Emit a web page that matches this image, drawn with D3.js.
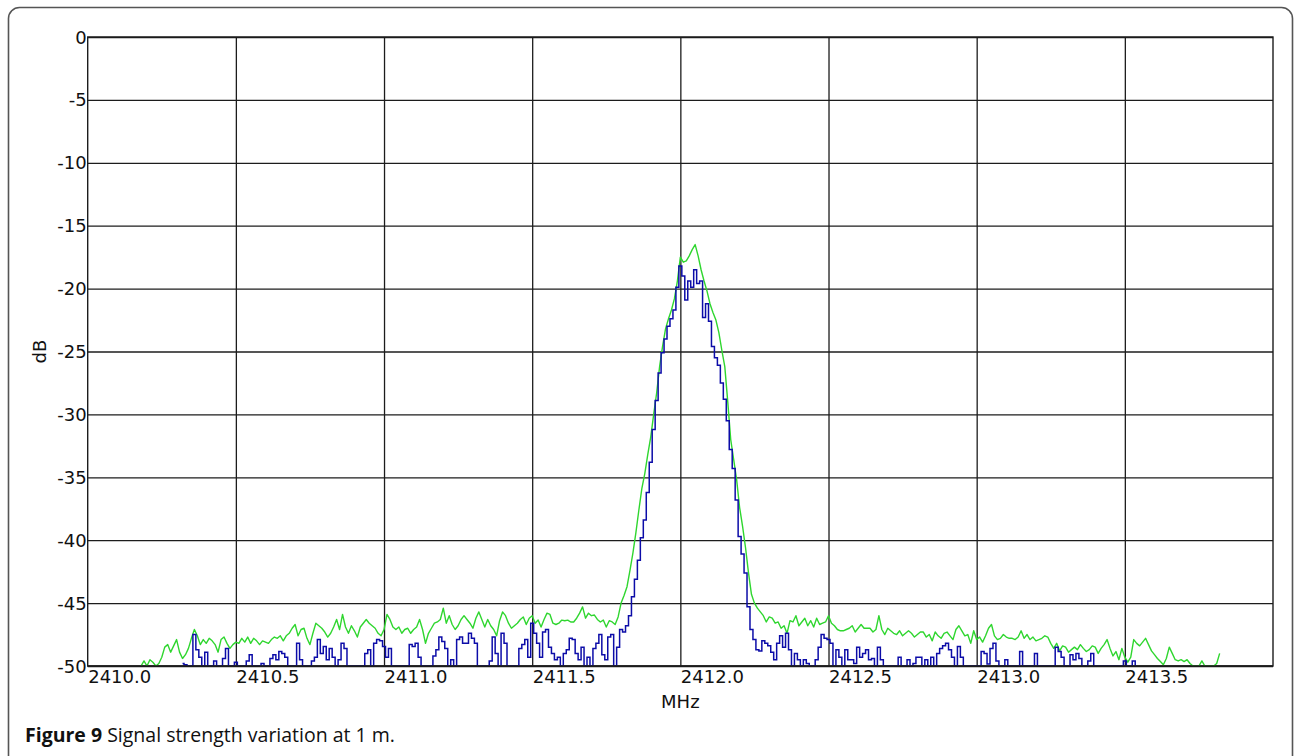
<!DOCTYPE html>
<html>
<head>
<meta charset="utf-8">
<script src="https://cdn.jsdelivr.net/npm/d3@7"></script>
<style>
  html, body { margin: 0; padding: 0; background: #fff; }
  svg { display: block; }
</style>
</head>
<body>
<svg id="chart" width="1294" height="756"></svg>
<script>
// Spectrum samples: one value per 0.01 MHz bin, starting at freqStart.
const freqStart = 2410.18;
const freqStep = 0.01;

// Upper trace (green), dB
const greenDb = [
  -50, -49.6, -50, -49.5, -49.7, -50, -49.8, -49.3, -48.5, -48.3,
  -48.9, -48.4, -47.9, -48.9, -49.4, -49.1, -48.6, -47.8, -47.1, -47.6,
  -48.3, -47.9, -48.2, -47.8, -48.0, -48.3, -48.9, -47.9, -47.7, -48.2,
  -48.6, -48.3, -48.1, -48.2, -47.8, -48.1, -47.7, -48.2, -47.8, -48.0,
  -48.3, -48.0, -48.1, -48.2, -47.9, -47.7, -47.8, -47.6, -48.0, -47.6,
  -47.4, -47.0, -46.7, -47.6, -47.1, -47.0, -47.8, -48.3, -47.4, -46.6,
  -46.8, -47.0, -47.3, -47.7, -47.4, -46.9, -46.3, -47.1, -45.9, -46.9,
  -47.4, -46.8, -47.2, -47.7, -46.9, -46.6, -46.3, -46.6, -46.8, -47.0,
  -47.4, -47.6, -47.1, -45.9, -46.3, -46.9, -47.1, -46.9, -47.4, -47.1,
  -47.0, -47.4, -47.1, -46.9, -46.3, -47.1, -48.2, -47.4, -47.0, -46.6,
  -46.5, -46.3, -45.4, -46.6, -46.0, -46.7, -47.1, -46.8, -46.3, -46.0,
  -46.3, -46.6, -47.0, -46.2, -45.7, -46.3, -46.9, -46.3, -46.8, -47.1,
  -47.6, -46.4, -45.7, -46.0, -46.6, -47.0, -46.8, -46.6, -46.3, -46.1,
  -46.7, -46.2, -46.0, -46.6, -46.35, -46.9, -46.3, -45.8, -45.9, -46.6,
  -46.7, -46.6, -46.35, -46.4, -46.35, -46.5, -46.5, -46.2, -45.8, -45.3,
  -46.2, -45.8, -46.0, -45.95, -46.3, -46.5, -46.35, -46.9, -46.4, -46.5,
  -46.7, -46.1, -45.0, -44.4, -43.7, -42.4, -41.0, -39.4, -37.6, -35.9,
  -34.7, -33.2, -31.8, -30.0, -28.3, -26.2, -24.6, -23.2, -22.4, -21.7,
  -20.8, -19.4, -17.5, -17.9, -17.8, -17.4, -16.9, -16.5, -17.4, -18.5,
  -19.4, -20.2, -21.2, -21.9, -22.5, -23.5, -24.9, -26.2, -29.0, -32.0,
  -33.6, -35.2, -37.4, -38.9, -40.6, -42.6, -44.3, -45.0, -45.4, -45.7,
  -46.0, -46.5, -46.1, -46.2, -46.6, -46.5, -47.0, -46.8, -47.4, -46.4,
  -46.5, -46.0, -46.8, -46.5, -46.2, -46.8, -46.4, -46.9, -46.2, -46.7,
  -46.6, -46.5, -46.0, -46.6, -46.8, -47.1, -47.2, -47.2, -47.1, -47.0,
  -46.8, -47.3, -47.0, -46.7, -47.0, -47.0, -47.0, -47.3, -47.1, -46.0,
  -47.1, -47.5, -47.0, -47.2, -47.4, -47.5, -47.2, -47.6, -47.4, -47.2,
  -47.4, -47.7, -47.5, -47.3, -47.3, -47.7, -47.5, -48.0, -47.3, -47.6,
  -47.8, -47.4, -47.3, -47.6, -47.9, -47.1, -46.8, -47.2, -47.6, -47.5,
  -48.2, -47.2, -47.9, -47.7, -48.1, -47.6, -47.0, -46.7, -47.6, -47.9,
  -47.8, -47.5, -47.7, -47.8, -47.8, -47.9, -47.7, -47.2, -47.8, -47.5,
  -47.9, -47.7, -48.0, -47.9, -47.8, -47.6, -47.7, -48.2, -48.6, -48.2,
  -48.8, -48.4, -48.5, -48.9, -48.7, -48.5, -48.7, -48.3, -48.6, -48.85,
  -48.7, -48.4, -48.5, -49.0, -48.6, -48.3, -47.9, -48.6, -49.2, -48.85,
  -49.5, -48.6, -49.3, -49.7, -49.3, -47.9, -48.2, -48.4, -48.1, -47.8,
  -48.3, -48.8, -49.1, -49.4, -49.65, -49.9, -49.4, -48.5, -49.0, -49.5,
  -49.6, -49.5, -49.65, -49.5, -49.8, -50, -50, -50, -49.6, -50,
  -50, -50, -50, -49.8, -49.0
];

// Lower trace (blue), dB; null where the trace is absent
const blueDb = [
  null, null, null, null, null, null, null, null, null, null,
  null, null, null, null, -49.8, -49.9, -50, -50, -47.5, -48.7,
  -49.3, -50, -48.9, -50, -50, -49.6, -50, -50, -49.4, -48.6,
  -50, -50, -49.7, -50, -50, -50, -49.6, -49.1, -50, -50,
  -50, -49.8, -50, -50, -49.4, -49.1, -49.5, -48.85, -49.0, -49.3,
  -50, -50, -50, -48.2, -49.5, -50, -50, -50, -49.6, -49.3,
  -47.9, -49.0, -48.45, -49.5, -48.6, -49.3, -50, -49.5, -48.2, -48.6,
  -50, -50, -50, -50, -50, -50, -49.0, -48.7, -50, -48.2,
  -47.9, -48.0, -48.45, -49.3, -48.6, -50, -50, -50, -50, -50,
  -50, -48.3, -48.45, -48.2, -49.3, -50, -50, -50, -50, -49.2,
  -48.7, -47.7, -48.05, -48.6, -50, -49.5, -50, -47.9, -47.7, -48.2,
  -48.2, -47.4, -47.8, -48.2, -50, -50, -50, -50, -49.6, -47.7,
  -49.0, -50, -47.4, -48.2, -50, -50, -50, -50, -48.6, -48.3,
  -47.9, -49.3, -46.6, -47.4, -48.2, -49.3, -47.3, -47.1, -48.5, -49.0,
  -49.5, -49.3, -50, -49.0, -48.7, -47.8, -47.9, -49.0, -49.5, -48.5,
  -50, -49.3, -50, -48.6, -48.2, -47.5, -49.1, -49.5, -47.7, -47.5,
  -50, -48.5, -47.1, -47.3, -46.8, -46.0, -44.5, -43.1, -41.6, -39.8,
  -38.4, -36.2, -33.8, -31.2, -28.9, -26.7, -25.1, -24.0, -23.0, -22.4,
  -21.7, -19.9, -18.2, -19.0, -20.9, -19.4, -19.9, -18.5, -19.6, -19.4,
  -22.3, -21.2, -22.6, -24.6, -25.5, -26.1, -27.5, -28.8, -30.5, -32.8,
  -34.3, -36.8, -39.7, -41.1, -42.6, -45.3, -47.1, -47.9, -48.7, -48.8,
  -48.0, -48.2, -48.4, -48.9, -49.5, -48.2, -47.6, -48.5, -47.4, -48.7,
  -50, -49.0, -49.5, -50, -49.5, -49.8, -50, -50, -49.5, -48.5,
  -47.5, -47.8, -47.9, -48.2, -50, -48.7, -49.3, -50, -48.7, -49.5,
  -49.5, -49.8, -48.5, -49.3, -49.0, -48.7, -49.5, -49.4, -50, -48.5,
  -49.5, -50, -50, -50, -50, -50, -49.3, -50, -50, -49.5,
  -50, -49.8, -49.3, -49.3, -50, -49.5, -50, -49.3, -50, -49.0,
  -48.6, -48.4, -48.2, -48.7, -49.3, -50, -48.45, -49.3, -50, -50,
  -50, -50, -50, -50, -48.85, -49.0, -49.85, -48.6, -48.2, -49.6,
  -50, -50, -49.5, -50, -50, -50, -50, -48.85, -50, -50,
  -50, -50, -49.0, -50, -50, -50, -50, -50, -50, -48.5,
  -48.85, -49.3, -50, -50, -49.1, -49.5, -49.0, -49.4, -50, -50,
  -49.6, -49.0, -50, -50, -50, -50, -50, -50, -50, -50,
  -50, -50, -49.6, -50, -50, -49.6, -50
];

// Axis ticks
const xTicks = [2410.0, 2410.5, 2411.0, 2411.5, 2412.0, 2412.5, 2413.0, 2413.5];
const yTicks = [0, -5, -10, -15, -20, -25, -30, -35, -40, -45, -50];
const xDomain = [2410, 2414];
const yDomain = [-50, 0];

const plot = { left: 87.7, right: 1273, top: 37, bottom: 666 };

const svg = d3.select("#chart");

// Outer panel frame with rounded corners
svg.append("rect")
  .attr("x", 8.5).attr("y", 7.5)
  .attr("width", 1284).attr("height", 780)
  .attr("rx", 11).attr("ry", 11)
  .attr("fill", "none")
  .attr("stroke", "#555")
  .attr("stroke-width", 1.6);

const x = d3.scaleLinear().domain(xDomain).range([plot.left, plot.right]);
const y = d3.scaleLinear().domain(yDomain).range([plot.bottom, plot.top]);

const grid = svg.append("g");

// Horizontal grid
grid.append("g")
  .attr("transform", `translate(${plot.left},0)`)
  .call(d3.axisLeft(y).tickValues(yTicks).tickSize(-(plot.right - plot.left)).tickFormat(""))
  .call(g => g.select(".domain").remove())
  .call(g => g.selectAll("line").attr("stroke", "#1c1c1c").attr("stroke-width", 1.3));

// Vertical grid
grid.append("g")
  .attr("transform", `translate(0,${plot.bottom})`)
  .call(d3.axisBottom(x).tickValues(xTicks.slice(1)).tickSize(-(plot.bottom - plot.top)).tickFormat(""))
  .call(g => g.select(".domain").remove())
  .call(g => g.selectAll("line").attr("stroke", "#1c1c1c").attr("stroke-width", 1.3));

// Plot frame
svg.append("rect")
  .attr("x", plot.left).attr("y", plot.top)
  .attr("width", plot.right - plot.left).attr("height", plot.bottom - plot.top)
  .attr("fill", "none").attr("stroke", "#1c1c1c").attr("stroke-width", 1.4);

// Traces
svg.append("clipPath").attr("id", "plot-clip")
  .append("rect")
  .attr("x", plot.left).attr("y", plot.top)
  .attr("width", plot.right - plot.left).attr("height", plot.bottom - plot.top);

const toPoints = arr => arr.map((v, i) => ({ f: freqStart + i * freqStep, v }));

const lineGreen = d3.line()
  .defined(d => d.v !== null)
  .x(d => x(d.f)).y(d => y(d.v));

const lineBlue = d3.line()
  .defined(d => d.v !== null)
  .curve(d3.curveStep)
  .x(d => x(d.f)).y(d => y(d.v));

const traces = svg.append("g").attr("clip-path", "url(#plot-clip)");

traces.append("path")
  .datum(toPoints(greenDb))
  .attr("d", lineGreen)
  .attr("fill", "none")
  .attr("stroke", "#2fd62f")
  .attr("stroke-width", 1.4)
  .attr("stroke-linejoin", "round");

traces.append("path")
  .datum(toPoints(blueDb))
  .attr("d", lineBlue)
  .attr("fill", "none")
  .attr("stroke", "#0c0ca8")
  .attr("stroke-width", 1.5);

// Redraw the bottom edge over the traces
svg.append("line")
  .attr("x1", plot.left).attr("x2", plot.right)
  .attr("y1", plot.bottom).attr("y2", plot.bottom)
  .attr("stroke", "#1c1c1c").attr("stroke-width", 1.6);

// Tick labels
const labelFont = "'DejaVu Sans', sans-serif";

svg.append("g")
  .attr("transform", `translate(0,${plot.bottom})`)
  .call(d3.axisBottom(x).tickValues(xTicks).tickSize(0).tickPadding(0).tickFormat(d3.format(".1f")))
  .call(g => g.select(".domain").remove())
  .call(g => g.selectAll("text")
    .attr("text-anchor", "start")
    .attr("dy", null)
    .attr("y", 17)
    .attr("fill", "#111")
    .style("font-family", labelFont)
    .style("font-size", "18px"));

svg.append("g")
  .attr("transform", `translate(${plot.left},0)`)
  .call(d3.axisLeft(y).tickValues(yTicks).tickSize(0).tickPadding(1).tickFormat(d => String(d)))
  .call(g => g.select(".domain").remove())
  .call(g => g.selectAll("text")
    .attr("dy", null)
    .attr("y", 6)
    .attr("fill", "#111")
    .style("font-family", labelFont)
    .style("font-size", "18px"));

// Axis titles
svg.append("text")
  .attr("x", (plot.left + plot.right) / 2).attr("y", 708)
  .attr("text-anchor", "middle")
  .attr("fill", "#111")
  .style("font-family", labelFont)
  .style("font-size", "18px")
  .text("MHz");

svg.append("text")
  .attr("transform", `translate(46,${(plot.top + plot.bottom) / 2}) rotate(-90)`)
  .attr("text-anchor", "middle")
  .attr("fill", "#111")
  .style("font-family", labelFont)
  .style("font-size", "18px")
  .text("dB");

// Caption
const caption = svg.append("text")
  .attr("x", 25).attr("y", 742)
  .attr("fill", "#111")
  .style("font-family", "'Open Sans', 'Noto Sans', sans-serif")
  .style("font-size", "19.5px");
caption.append("tspan").style("font-weight", "bold").text("Figure 9");
caption.append("tspan").text(" Signal strength variation at 1 m.");
</script>
</body>
</html>
